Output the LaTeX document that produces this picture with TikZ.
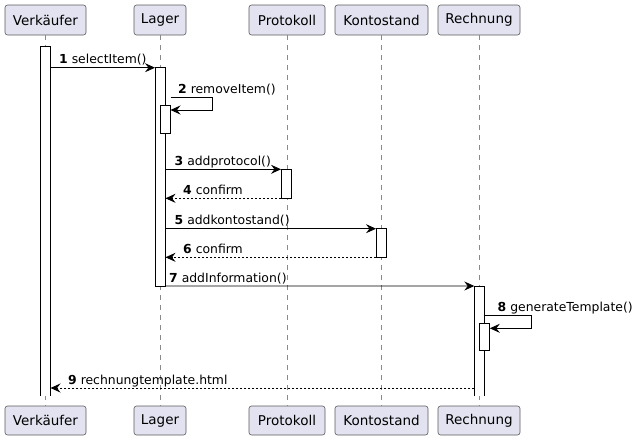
\documentclass[tikz,border=0pt]{standalone}
\usepackage{fontspec}
\setmainfont{DejaVu Sans}
\usetikzlibrary{arrows.meta}
\definecolor{partfill}{HTML}{E2E2F0}
\definecolor{partline}{HTML}{5A5A5A}
\definecolor{lifeline}{HTML}{8A8A8A}
\tikzset{
  part/.style={draw=partline, fill=partfill, line width=0.6pt, rounded corners=2.5pt,
    minimum height=30pt, inner sep=0pt, outer sep=0pt, font=\fontsize{13.5}{16}\selectfont},
  life/.style={draw=lifeline, line width=0.6pt, dash pattern=on 5pt off 5pt},
  bar/.style={draw=black, fill=white, line width=0.8pt, minimum width=10.5pt, inner sep=0pt, outer sep=0pt, anchor=north west},
  openbar/.style={bar, draw=none},
  barline/.style={draw=black, line width=0.8pt},
  msg/.style={draw=black, line width=0.8pt, -{Stealth[length=10pt,width=9pt,inset=3.5pt]}},
  ret/.style={msg, dash pattern=on 2pt off 2pt},
  lbl/.style={inner sep=0pt, anchor=base west, font=\fontsize{12.4}{14}\selectfont},
}
\newcommand{\num}[1]{\textbf{#1}}
\begin{document}
\begin{tikzpicture}[x=1pt,y=-1pt]
\useasboundingbox (0,0) rectangle (635,440);
% participants top
\node[part, minimum width=81pt] (vT) at (45.5,20) {Verkäufer};
\node[part, minimum width=52pt] (lT) at (160,20) {Lager};
\node[part, minimum width=76pt] (pT) at (287,20) {Protokoll};
\node[part, minimum width=93pt] (kT) at (381.5,20) {Kontostand};
\node[part, minimum width=82pt] (rT) at (479,20) {Rechnung};
% participants bottom
\node[part, minimum width=81pt, minimum height=29pt] (vB) at (45.5,420.5) {Verkäufer};
\node[part, minimum width=52pt, minimum height=29pt] (lB) at (160,420.5) {Lager};
\node[part, minimum width=76pt, minimum height=29pt] (pB) at (287,420.5) {Protokoll};
\node[part, minimum width=93pt, minimum height=29pt] (kB) at (381.5,420.5) {Kontostand};
\node[part, minimum width=82pt, minimum height=29pt] (rB) at (479,420.5) {Rechnung};
% lifelines
\draw[life] (vT) -- (vB);
\draw[life] (lT) -- (lB);
\draw[life] (pT) -- (pB);
\draw[life] (kT) -- (kB);
\draw[life] (rT) -- (rB);
% activation bars
\node[openbar, minimum height=349.3pt] (barV) at (40,46.7) {};
\draw[barline] (barV.south west) -- (barV.north west) -- (barV.north east) -- (barV.south east);
\node[bar, minimum height=218.3pt] (barL) at (155,67.7) {};
\node[bar, minimum height=28pt] (barL2) at (160,105.3) {};
\node[bar, minimum height=29pt] (barP) at (281,169.3) {};
\node[bar, minimum height=28.6pt] (barK) at (376,228.7) {};
\node[openbar, minimum height=110pt] (barR) at (474.3,286) {};
\draw[barline] (barR.south west) -- (barR.north west) -- (barR.north east) -- (barR.south east);
\node[bar, minimum height=27.7pt] (barR2) at (479.3,323) {};
% helper coordinates
\coordinate (s2a) at (170.7,97.3);
\coordinate (s2b) at (212.7,97.3);
\coordinate (s2c) at (212.7,110);
\coordinate (s8a) at (484.8,315.7);
\coordinate (s8b) at (531.7,315.7);
\coordinate (s8c) at (531.7,328.3);
\coordinate (m9) at (474.3,388);
% messages
\draw[msg] (barV.east |- barL.north) -- (barL.north west);
\node[lbl] (l1) at (59,63.5) {\num{1} selectItem()};
\draw[barline] (s2a) -- (s2b) -- (s2c);
\draw[msg] (s2c) -- (barL2.east |- s2c);
\node[lbl] (l2) at (178,93) {\num{2} removeItem()};
\draw[msg] (barL.east |- barP.north) -- (barP.north west);
\node[lbl] (l3) at (174.5,165.3) {\num{3} addprotocol()};
\draw[ret] (barP.south west) -- (barL.east |- barP.south);
\node[lbl] (l4) at (183,194.3) {\num{4} confirm};
\draw[msg] (barL.east |- barK.north) -- (barK.north west);
\node[lbl] (l5) at (174.5,224.7) {\num{5} addkontostand()};
\draw[ret] (barK.south west) -- (barL.east |- barK.south);
\node[lbl] (l6) at (183,253.3) {\num{6} confirm};
\draw[msg] (barL.south east) -- (barR.north west);
\node[lbl] (l7) at (169,282) {\num{7} addInformation()};
\draw[barline] (s8a) -- (s8b) -- (s8c);
\draw[msg] (s8c) -- (barR2.east |- s8c);
\node[lbl] (l8) at (497.5,311) {\num{8} generateTemplate()};
\draw[ret] (m9) -- (barV.east |- m9);
\node[lbl] (l9) at (68,384) {\num{9} rechnungtemplate.html};
\end{tikzpicture}
\end{document}
